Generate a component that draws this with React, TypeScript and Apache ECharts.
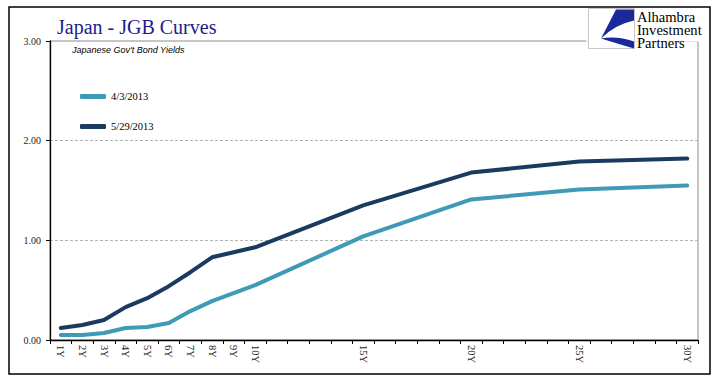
import React, { useEffect, useRef } from "react";
import * as echarts from "echarts";

const tenors: number[] = Array.from({ length: 30 }, (_, i) => i + 1);
const labeledTenors = [1, 2, 3, 4, 5, 6, 7, 8, 9, 10, 15, 20, 25, 30];
const seriesNames = ["4/3/2013", "5/29/2013"];
// yields at labeled tenors (1Y..10Y, 15Y, 20Y, 25Y, 30Y)
const yieldsApr = [0.05, 0.05, 0.07, 0.12, 0.13, 0.17, 0.29, 0.39, 0.47, 0.55, 1.04, 1.41, 1.51, 1.55];
const yieldsMay = [0.12, 0.15, 0.2, 0.33, 0.42, 0.54, 0.68, 0.83, 0.88, 0.93, 1.35, 1.68, 1.79, 1.82];
const yTicks = [0, 1, 2, 3];
const logoLines = ["Alhambra", "Investment", "Partners"];

const colors = ["#3f9ab5", "#1b3a60"];
const SERIF = "'Liberation Serif', 'Times New Roman', serif";

function toFull(vals: number[]): (number | null)[] {
  return tenors.map((t) => {
    const idx = labeledTenors.indexOf(t);
    return idx >= 0 ? vals[idx] : null;
  });
}

const logoPath = "M27 1 L45 1 L45 12 Q26 16 12 30 Z M12 30 Q28 35 45 40 L45 33 Q28 27 12 30 Z";
echarts.graphic.registerShape("logo", echarts.graphic.extendPath(logoPath, {}) as any);

export default function App() {
  const ref = useRef<HTMLDivElement>(null);
  useEffect(() => {
    if (!ref.current) return;
    const chart = echarts.init(ref.current, null, { renderer: "svg" });
    const option: any = {
      animation: false,
      backgroundColor: "#ffffff",
      title: {
        text: "Japan - JGB Curves",
        left: 52,
        top: 12,
        textStyle: { fontFamily: SERIF, fontSize: 20, fontWeight: "normal", color: "#1c1c8c" },
      },
      legend: {
        orient: "vertical",
        left: 75,
        top: 85,
        itemGap: 17,
        itemWidth: 26,
        itemHeight: 5,
        icon: "roundRect",
        data: seriesNames,
        textStyle: { fontFamily: SERIF, fontSize: 10.5, color: "#000", lineHeight: 13 },
      },
      grid: { left: 50, right: 23, top: 41, bottom: 41, show: true, borderColor: "#8c8c8c", borderWidth: 1 },
      xAxis: {
        type: "category",
        data: tenors,
        boundaryGap: true,
        axisLine: { lineStyle: { color: "#000", width: 1.3 } },
        axisTick: { show: true, interval: 0, length: 4, lineStyle: { color: "#000" } },
        axisLabel: {
          interval: 0,
          rotate: -90,
          margin: 5,
          fontFamily: SERIF,
          fontSize: 10.5,
          color: "#222",
          formatter: (v: string) => (labeledTenors.indexOf(Number(v)) >= 0 ? `${v}Y` : ""),
        },
      },
      yAxis: {
        type: "value",
        min: yTicks[0],
        max: yTicks[yTicks.length - 1],
        interval: 1,
        axisLine: { show: true, lineStyle: { color: "#000", width: 1.3 } },
        axisTick: { show: true, length: 4, lineStyle: { color: "#000" } },
        axisLabel: {
          margin: 9,
          fontFamily: SERIF,
          fontSize: 10,
          color: "#222",
          formatter: (v: number) => v.toFixed(2),
        },
        splitLine: {
          show: true,
          showMinLine: false,
          showMaxLine: false,
          lineStyle: { color: "#b4b4b4", type: [3, 2], width: 1 },
        },
      },
      series: [
        {
          name: seriesNames[0],
          type: "line",
          data: toFull(yieldsApr),
          connectNulls: true,
          showSymbol: false,
          symbol: "none",
          color: colors[0],
          lineStyle: { width: 4, color: colors[0], cap: "round", join: "round" },
        },
        {
          name: seriesNames[1],
          type: "line",
          data: toFull(yieldsMay),
          connectNulls: true,
          showSymbol: false,
          symbol: "none",
          color: colors[1],
          lineStyle: { width: 4, color: colors[1], cap: "round", join: "round" },
        },
      ],
      graphic: [
        {
          type: "rect",
          shape: { x: 9, y: 7, width: 701, height: 367 },
          style: { fill: "none", stroke: "#000", lineWidth: 1.5 },
          z: 10,
        },
        {
          type: "text",
          left: 72,
          top: 45,
          style: {
            text: "Japanese Gov't Bond Yields",
            font: "italic 9px 'Liberation Sans', Arial, sans-serif",
            fill: "#000",
          },
        },
        {
          type: "group",
          z: 20,
          children: [
            {
              type: "rect",
              shape: { x: 586, y: 8.5, width: 122, height: 33 },
              style: { fill: "#fff" },
            },
            {
              type: "rect",
              shape: { x: 588.5, y: 8.5, width: 46, height: 40 },
              style: { fill: "#fff", stroke: "#c8c8c8", lineWidth: 1 },
            },
            {
              type: "logo",
              x: 589,
              y: 8.5,
              scaleX: 1,
              scaleY: 1,
              style: { fill: "#1a2a9a" },
            },
            ...logoLines.map((t, i) => ({
              type: "text",
              x: 637,
              y: 10 + i * 13,
              scaleX: 1.12,
              scaleY: 1.08,
              style: {
                text: t,
                font: `13px ${SERIF}`,
                fill: "#000",
                textVerticalAlign: "top",
              },
            })),
          ],
        },
      ],
    };
    chart.setOption(option);
    return () => chart.dispose();
  }, []);
  return (
    <div
      ref={ref}
      style={{ position: "fixed", left: 0, top: 0, width: 721, height: 381, background: "#fff" }}
    />
  );
}
